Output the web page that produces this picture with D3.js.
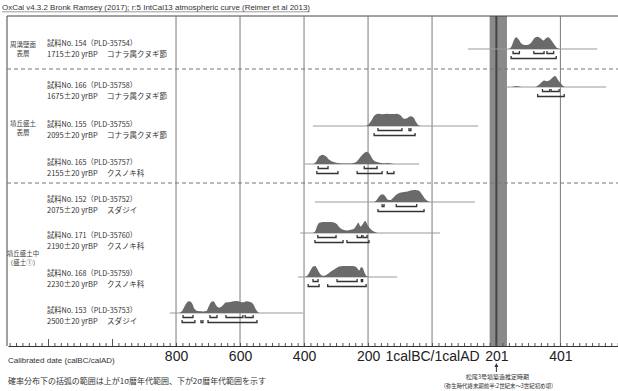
<!DOCTYPE html>
<html><head><meta charset="utf-8">
<script src="https://cdn.jsdelivr.net/npm/d3@7"></script>
<style>body{margin:0;background:#fff}svg{display:block}text{font-family:"Noto Sans CJK JP","Noto Sans",sans-serif}</style>
</head><body><svg id="c" width="618" height="391"></svg>
<script>
// ---------- data ----------
const sampleIds = ["154","166","155","165","152","171","168","153"];
const labCodes  = ["PLD-35754","PLD-35758","PLD-35755","PLD-35757","PLD-35752","PLD-35760","PLD-35759","PLD-35753"];
const bpAges    = [1715,1675,2095,2155,2075,2190,2230,2500];
const taxa      = ["コナラ属クヌギ節","コナラ属クヌギ節","コナラ属クヌギ節","クスノキ科","スダジイ","クスノキ科","クスノキ科","スダジイ"];
const groupNames = [["周溝壁面","表層"],["墳丘盛土","表層"],["墳丘盛土中","（盛土①）"]];
const tickYears  = [-800,-600,-400,-200,0,201,401];
const tickLabels = ["800","600","400","200","1calBC/1calAD","201","401"];
const bandYears  = [180,234];
const markerYear = 201;

// probability distributions: [calendar year (BC negative), relative density]
const dens154 = [[240,0],[248,0.2],[256,0.7],[263,0.9],[270,0.75],[280,0.4],[290,0.3],[300,0.32],[310,0.5],[320,0.85],[330,0.95],[340,0.8],[348,0.65],[355,0.8],[363,0.9],[372,0.7],[382,0.35],[392,0.05],[400,0]];
const dens166 = [[250,0],[258,0.05],[265,0.08],[272,0.03],[280,0],[320,0],[330,0.1],[340,0.3],[350,0.5],[358,0.45],[366,0.5],[375,0.7],[385,0.85],[392,0.6],[400,0.35],[408,0.12],[416,0]];
const dens155 = [[-210,0],[-200,0.1],[-190,0.4],[-180,0.8],[-168,0.95],[-155,0.9],[-140,0.95],[-125,0.92],[-110,0.95],[-98,0.8],[-88,0.55],[-78,0.6],[-68,0.75],[-58,0.65],[-50,0.3],[-42,0.05],[-35,0]];
const dens165 = [[-370,0],[-362,0.2],[-352,0.6],[-342,0.72],[-332,0.6],[-320,0.3],[-308,0.15],[-296,0.08],[-280,0.04],[-260,0.03],[-245,0.08],[-235,0.2],[-225,0.5],[-212,0.85],[-204,0.95],[-196,0.8],[-185,0.35],[-172,0.15],[-160,0.08],[-148,0.06],[-138,0.08],[-128,0.04],[-118,0]];
const dens152 = [[-182,0],[-175,0.1],[-165,0.45],[-155,0.6],[-146,0.45],[-138,0.18],[-130,0.15],[-122,0.3],[-112,0.55],[-102,0.7],[-92,0.75],[-82,0.78],[-72,0.85],[-62,0.9],[-52,0.92],[-42,0.88],[-32,0.6],[-22,0.25],[-12,0.05],[-5,0]];
const dens171 = [[-375,0],[-366,0.1],[-358,0.6],[-350,0.8],[-340,0.85],[-325,0.85],[-310,0.82],[-298,0.7],[-288,0.4],[-278,0.25],[-265,0.2],[-255,0.25],[-245,0.3],[-236,0.6],[-230,0.78],[-224,0.5],[-216,0.7],[-209,0.92],[-200,0.55],[-190,0.25],[-180,0.1],[-170,0]];
const dens168 = [[-400,0],[-390,0.1],[-380,0.5],[-372,0.8],[-365,0.85],[-358,0.6],[-350,0.25],[-342,0.1],[-334,0.12],[-325,0.25],[-315,0.45],[-305,0.6],[-295,0.75],[-285,0.82],[-270,0.85],[-255,0.85],[-243,0.82],[-234,0.7],[-228,0.5],[-222,0.75],[-217,0.72],[-211,0.35],[-204,0.05],[-198,0]];
const dens153 = [[-790,0],[-780,0.2],[-770,0.65],[-760,0.9],[-750,0.75],[-742,0.3],[-732,0.15],[-715,0.12],[-705,0.15],[-698,0.5],[-690,0.85],[-683,0.9],[-675,0.6],[-665,0.4],[-655,0.55],[-645,0.8],[-630,0.85],[-612,0.92],[-598,0.85],[-590,0.82],[-580,0.9],[-568,0.85],[-558,0.65],[-550,0.25],[-540,0]];

// calculation range (grey baseline)
const spans = [[112,516],[231,544],[-372,144],[-397,-40],[-366,134],[-412,25],[-419,-109],[-819,-403]];
// 1 sigma and 2 sigma ranges
const sigma1 = [
  [[253,273],[318,350],[359,380]],
  [[345,368],[372,397]],
  [[-169,-94],[-72,-66]],
  [[-356,-325],[-212,-172]],
  [[-156,-150],[-112,-48]],
  [[-357,-300],[-234,-220],[-216,-203]],
  [[-372,-356],[-297,-234],[-221,-217]],
  [[-778,-747],[-694,-672],[-644,-591],[-584,-559]]
];
const sigma2 = [
  [[247,388]],
  [[330,413]],
  [[-181,-53]],
  [[-360,-294],[-234,-156],[-140,-119]],
  [[-169,-25]],
  [[-366,-278],[-266,-197]],
  [[-387,-353],[-326,-206]],
  [[-781,-741],[-722,-716],[-700,-547]]
];
const densities = [dens154,dens166,dens155,dens165,dens152,dens171,dens168,dens153];

// ---------- layout ----------
const svg = d3.select("#c");
const W = 618, topY = 16, axisY = 346, leftX = 7;
const x = d3.scaleLinear().domain([-1325,581]).range([8,618]);
const yBase  = d3.scaleOrdinal().domain(sampleIds).range([49,87,126,164,202,233,277,313]);
const yLabel = d3.scaleOrdinal().domain(sampleIds).range([48,90,129,167,204,240,278,315]);
const hScale = d3.scaleLinear().domain([0,1]).range([0,13]);
const groupY = [48.5,127.5,257.5];

// header
svg.append("text").attr("x",2).attr("y",10).attr("font-size",7.5)
  .style("font-family","'Liberation Sans',Arial,sans-serif").attr("fill","#333")
  .attr("textLength",308).attr("lengthAdjust","spacingAndGlyphs")
  .text("OxCal v4.3.2 Bronk Ramsey (2017); r:5 IntCal13 atmospheric curve (Reimer et al 2013)");
svg.append("line").attr("x1",2).attr("x2",310).attr("y1",11.8).attr("y2",11.8).attr("stroke","#555").attr("stroke-width",0.6);

// band
svg.append("rect").attr("x",x(bandYears[0])).attr("y",topY).attr("width",x(bandYears[1])-x(bandYears[0]))
  .attr("height",axisY-topY).attr("fill","#8a8a8a");

// frame
svg.append("line").attr("x1",leftX).attr("x2",W).attr("y1",topY).attr("y2",topY).attr("stroke","#444").attr("stroke-width",1);
svg.append("line").attr("x1",leftX).attr("x2",leftX).attr("y1",topY).attr("y2",axisY).attr("stroke","#444").attr("stroke-width",1);

// grid lines
svg.append("g").selectAll("line").data(tickYears).join("line")
  .attr("x1",d=>x(d)).attr("x2",d=>x(d)).attr("y1",topY).attr("y2",axisY)
  .attr("stroke",d=>d===markerYear?"#444":"#7a7a7a").attr("stroke-width",d=>d===markerYear?2:1);

// dashed separators
svg.append("g").selectAll("line").data([69,183]).join("line")
  .attr("x1",leftX).attr("x2",W).attr("y1",d=>d).attr("y2",d=>d)
  .attr("stroke","#777").attr("stroke-width",1).attr("stroke-dasharray","4,3");

// rows
const area = d3.area().x(d=>x(d[0])).y0(0).y1(d=>-hScale(d[1])).curve(d3.curveMonotoneX);
sampleIds.forEach((id,i)=>{
  const g = svg.append("g").attr("transform",`translate(0,${yBase(id)})`);
  g.append("line").attr("x1",x(spans[i][0])).attr("x2",x(spans[i][1])).attr("y1",0).attr("y2",0)
    .attr("stroke","#9a9a9a").attr("stroke-width",1);
  g.append("path").datum(densities[i]).attr("d",area).attr("fill","#6a6a6a");
  const br = (ranges,dy)=> g.append("g").selectAll("path").data(ranges).join("path")
    .attr("d",r=>`M${x(r[0])},${dy-2.5}V${dy}H${x(r[1])}V${dy-2.5}`)
    .attr("fill","none").attr("stroke","#333").attr("stroke-width",1.3);
  br(sigma1[i],4.5); br(sigma2[i],9.5);
  const ly = yLabel(id);
  svg.append("text").attr("x",47).attr("y",ly-2).attr("font-size",7.5).attr("fill","#333")
    .attr("textLength",90).attr("lengthAdjust","spacingAndGlyphs")
    .text(`試料No. ${id}（${labCodes[i]}）`);
  svg.append("text").attr("x",47).attr("y",ly+9).attr("font-size",7.5).attr("fill","#333")
    .text(`${bpAges[i]}±20 yrBP`);
  svg.append("text").attr("x",107).attr("y",ly+9).attr("font-size",7.5).attr("fill","#333")
    .text(taxa[i]);
});

// group labels
groupNames.forEach((gn,i)=>{
  gn.forEach((t,j)=>{
    svg.append("text").attr("x",23).attr("y",groupY[i]-2+j*9).attr("text-anchor","middle")
      .attr("font-size",6.5).attr("fill","#444").text(t);
  });
});

// axis
const minor = d3.axisTop(x).tickValues(d3.range(-1320,582,20)).tickSize(3).tickFormat("").tickSizeOuter(0);
const gMinor = svg.append("g").attr("transform",`translate(0,${axisY})`).call(minor);
gMinor.select(".domain").attr("stroke","#333");
gMinor.selectAll(".tick line").attr("stroke","#555");
const major = d3.axisTop(x).tickValues([-1200,-1000]).tickSize(7).tickFormat("").tickSizeOuter(0);
const gMajor = svg.append("g").attr("transform",`translate(0,${axisY})`).call(major);
gMajor.select(".domain").remove();
gMajor.selectAll(".tick line").attr("stroke","#555");
const lab = d3.axisBottom(x).tickValues(tickYears).tickSize(0).tickPadding(5)
  .tickFormat((d,i)=>tickLabels[i]).tickSizeOuter(0);
const gLab = svg.append("g").attr("transform",`translate(0,${axisY})`).call(lab);
gLab.select(".domain").remove();
gLab.selectAll("text").attr("font-size",14).attr("fill","#222")
  .style("font-family","'Liberation Sans',Arial,sans-serif");

svg.append("text").attr("x",8).attr("y",363).attr("font-size",8).attr("fill","#333")
  .style("font-family","'Liberation Sans',Arial,sans-serif")
  .text("Calibrated date (calBC/calAD)");

// notes
svg.append("text").attr("x",8).attr("y",384).attr("font-size",7.8).attr("fill","#333")
  .attr("textLength",258).attr("lengthAdjust","spacingAndGlyphs")
  .text("確率分布下の括弧の範囲は上が1σ暦年代範囲、下が2σ暦年代範囲を示す");
const mx = x(markerYear);
svg.append("line").attr("x1",mx).attr("x2",mx).attr("y1",372).attr("y2",366).attr("stroke","#333").attr("stroke-width",1);
svg.append("path").attr("d",`M${mx-2},${367}L${mx},${363}L${mx+2},${367}Z`).attr("fill","#333");
svg.append("text").attr("x",mx+1).attr("y",379).attr("text-anchor","middle").attr("font-size",6).attr("fill","#333")
  .text("松尾3号墳築造推定時期");
svg.append("text").attr("x",mx+2).attr("y",388).attr("text-anchor","middle").attr("font-size",5.8).attr("fill","#333")
  .attr("textLength",116).attr("lengthAdjust","spacingAndGlyphs")
  .text("（弥生時代終末期前半:2世紀末～3世紀初め頃）");
</script>
</body></html>
